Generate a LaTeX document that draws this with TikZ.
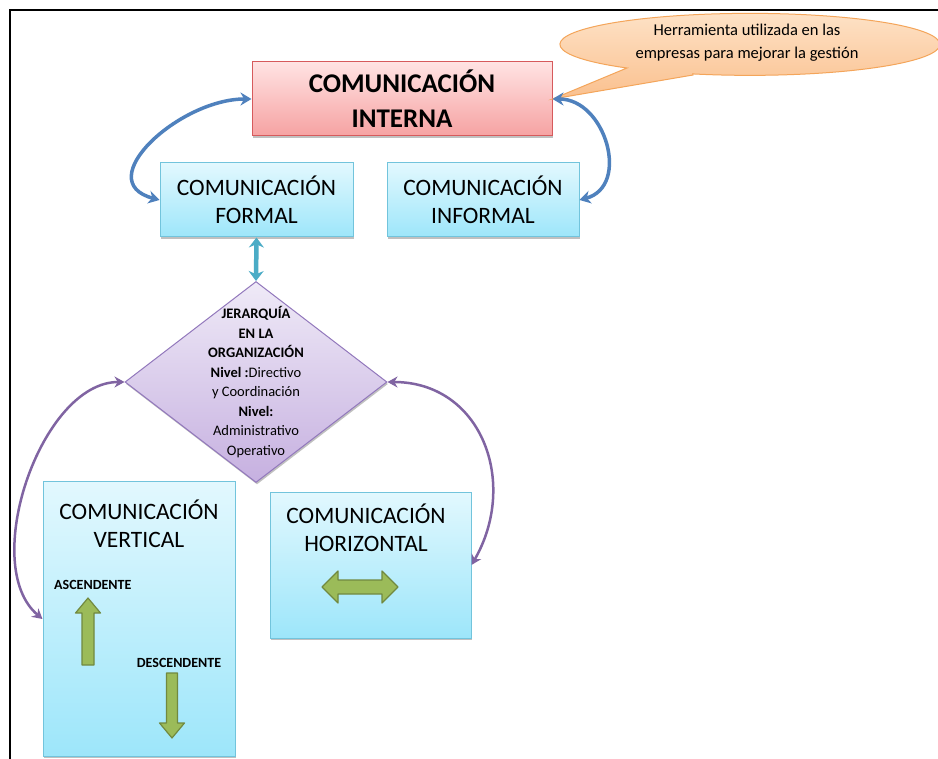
\documentclass[tikz,border=0pt]{standalone}
\usepackage{fontspec}
\setmainfont{Carlito}
\usetikzlibrary{shapes.geometric,arrows.meta,shadows}

\definecolor{redtop}{HTML}{FFE3E3}
\definecolor{redbot}{HTML}{F6A2A2}
\definecolor{redline}{HTML}{D65A5C}
\definecolor{cyantop}{HTML}{E2F8FE}
\definecolor{cyanbot}{HTML}{9DE6FA}
\definecolor{cyanline}{HTML}{72C4DC}
\definecolor{liltop}{HTML}{EFEAF7}
\definecolor{lilbot}{HTML}{C6B0E0}
\definecolor{lilline}{HTML}{9278BC}
\definecolor{orgtop}{HTML}{FEE3C8}
\definecolor{orgbot}{HTML}{FAC08E}
\definecolor{orgline}{HTML}{F4A55A}
\definecolor{arrblue}{HTML}{4F81BD}
\definecolor{arrcyan}{HTML}{4BACC6}
\definecolor{arrlil}{HTML}{8064A2}
\definecolor{grnfill}{HTML}{9BBB59}
\definecolor{grnline}{HTML}{71893F}

\begin{document}
\begin{tikzpicture}[x=1pt,y=1pt,
  boxshadow/.style={drop shadow={shadow xshift=1pt,shadow yshift=-2pt,opacity=0.35,fill=black!70}},
  redbox/.style={draw=redline,line width=1pt,top color=redtop,bottom color=redbot,
    minimum width=300pt,minimum height=74pt,inner sep=0pt,align=center,boxshadow,
    font=\fontsize{27}{35}\selectfont\bfseries},
  cyanbox/.style={draw=cyanline,line width=1pt,top color=cyantop,bottom color=cyanbot,
    inner sep=0pt,align=center,boxshadow,font=\fontsize{23.5}{28}\selectfont},
  lilbox/.style={diamond,draw=lilline,line width=1pt,top color=liltop,bottom color=lilbot,
    inner sep=0pt,minimum width=262pt,minimum height=201pt,boxshadow},
  boxtext/.style={align=center,inner sep=0pt,font=\fontsize{23.5}{28.5}\selectfont},
  smalltext/.style={inner sep=0pt,font=\fontsize{14}{16}\selectfont\bfseries},
  bluearr/.style={draw=arrblue,line width=3.5pt,
    {Stealth[length=11pt,width=13pt]}-{Stealth[length=11pt,width=13pt]}},
  cyanarr/.style={draw=arrcyan,line width=4.5pt,
    {Stealth[length=10pt,width=15pt]}-{Stealth[length=10pt,width=15pt]}},
  lilarr/.style={draw=arrlil,line width=2.5pt,
    {Stealth[length=10pt,width=11pt]}-{Stealth[length=10pt,width=11pt]}},
  blockarr/.style={fill=grnfill,draw=grnline,line width=1.2pt,line join=round}]

\useasboundingbox (0,0) rectangle (938,-759);
\clip (0,0) rectangle (938,-759);
\fill[white] (0,0) rectangle (938,-759);

% outer frame (left and top edges)
\draw[line width=2pt] (10,-759) -- (10,-10) -- (938,-10);

% main boxes
\node[redbox] (intern) at (402,-99) {COMUNICACIÓN\\INTERNA};
\node[cyanbox,minimum width=193pt,minimum height=74pt] (formal) at (256.5,-200) {COMUNICACIÓN\\FORMAL};
\node[cyanbox,minimum width=192pt,minimum height=74pt] (informal) at (483,-200) {COMUNICACIÓN\\INFORMAL};
\node[lilbox] (jer) at (256,-382) {};
\node[align=center,inner sep=0pt,font=\fontsize{14.5}{19.5}\selectfont] (jertxt) at (jer.center)
  {\textbf{JERARQUÍA}\\\textbf{EN LA}\\\textbf{ORGANIZACIÓN}\\\textbf{Nivel :}Directivo\\y Coordinación\\\textbf{Nivel:}\\Administrativo\\Operativo};
\node[cyanbox,minimum width=192pt,minimum height=274pt] (vert) at (139,-619) {};
\node[cyanbox,minimum width=201pt,minimum height=146pt] (horiz) at (370.5,-565) {};
\node[boxtext] (verttxt) at (139,-524) {COMUNICACIÓN\\VERTICAL};
\node[boxtext] (horiztxt) at (366,-528) {COMUNICACIÓN\\HORIZONTAL};
\node[smalltext,anchor=west] (asc) at (54,-585) {ASCENDENTE};
\node[smalltext] (desc) at (179,-663) {DESCENDENTE};

% speech bubble with its pointer
\path[draw=orgline,line width=1pt,top color=orgtop,bottom color=orgbot]
  (693,-75) -- (intern.east) -- (627,-68)
  arc[start angle=229.7,end angle=-107.5,x radius=190,y radius=31] -- cycle;
\node[align=center,inner sep=0pt,font=\fontsize{16.5}{23}\selectfont] (note) at (747,-43)
  {Herramienta utilizada en las\\empresas para mejorar la gestión};

% connectors
\draw[bluearr] (intern.west) to[out=180,in=165,looseness=1.35] (formal.west);
\draw[bluearr] (intern.east) to[out=0,in=15,looseness=1.3] (informal.east);
\draw[cyanarr] (formal.south) -- (jer.north);
\draw[lilarr] (jer.west) to[out=180,in=140,looseness=0.85] (vert.west);
\draw[lilarr] (jer.east) to[out=0,in=60,looseness=1.2] (horiz.east);

% block arrows inside the lower boxes
\draw[blockarr] (82,-665) -- (82,-613) -- (75.5,-613) -- (88,-598) -- (100.5,-613)
  -- (94,-613) -- (94,-665) -- cycle;
\draw[blockarr] (166.5,-673) -- (166.5,-723) -- (159.5,-723) -- (172,-738) -- (184.5,-723)
  -- (177.5,-723) -- (177.5,-673) -- cycle;
\draw[blockarr] (322,-587) -- (338,-571) -- (338,-580) -- (382,-580) -- (382,-571)
  -- (398,-587) -- (382,-603) -- (382,-594) -- (338,-594) -- (338,-603) -- cycle;
\end{tikzpicture}
\end{document}
